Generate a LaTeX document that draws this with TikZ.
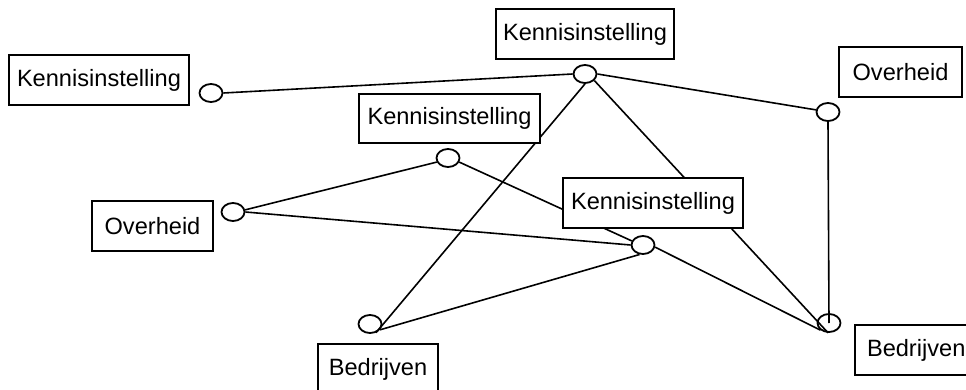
\documentclass[tikz,border=0pt]{standalone}
\usepackage{fontspec}
\setmainfont{Liberation Sans}
\usetikzlibrary{shapes.geometric}
\begin{document}
\begin{tikzpicture}[x=1pt,y=-1pt,
  vertex/.style={ellipse,draw,line width=1.8pt,minimum width=23pt,minimum height=18pt,inner sep=0pt},
  link/.style={draw,line width=1.6pt},
  label box/.style={draw,fill=white,line width=1.7pt,minimum height=50pt,inner sep=0pt,font=\fontsize{23.6}{28}\selectfont}]
\useasboundingbox (0,0) rectangle (966,390);
% vertices
\node[vertex] (A) at (211,93) {};
\node[vertex] (B) at (585,74) {};
\node[vertex] (C) at (828,112) {};
\node[vertex] (D) at (448,158) {};
\node[vertex] (E) at (233,212) {};
\node[vertex] (F) at (643,245) {};
\node[vertex] (G) at (370,324) {};
\node[vertex] (H) at (829,323) {};
% connectors
\draw[link] (A.east) -- (B.west);
\draw[link] (B.east) -- (C.170);
\draw[link] (B.south) -- (G.-55);
\draw[link] (B.-35) -- (H.-95);
\draw[link] (C.south) -- (H.center);
\draw[link] (D.200) -- (E.10);
\draw[link] (D.-20) -- (F.160);
\draw[link] (E.east) -- (F.west);
\draw[link] (F.-110) -- (G.-30);
\draw[link] (F.-10) -- (H.-140);
% labels
\node[label box,minimum width=180pt] (k1) at (99,80) {Kennisinstelling};
\node[label box,minimum width=178pt] (k2) at (585,34) {Kennisinstelling};
\node[label box,minimum width=181pt,minimum height=49pt] (k3) at (449.5,118.5) {Kennisinstelling};
\node[label box,minimum width=180pt] (k4) at (653,203) {Kennisinstelling};
\node[label box,minimum width=123pt] (o1) at (900.5,72) {Overheid};
\node[label box,minimum width=121pt] (o2) at (152.5,226) {Overheid};
\node[label box,minimum width=120pt] (b1) at (378,369) {Bedrijven};
\node[label box,minimum width=126pt,text width=102pt,align=left] (b2) at (918,350) {Bedrijven};
\end{tikzpicture}
\end{document}
